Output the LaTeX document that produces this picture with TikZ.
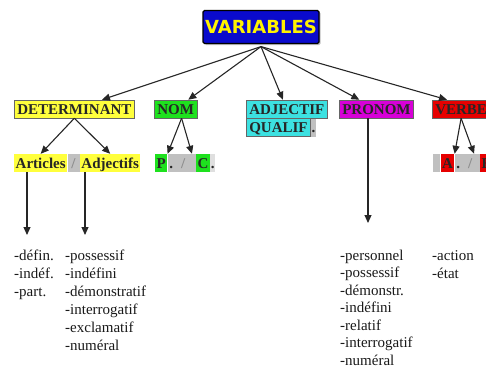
\documentclass[tikz,border=0pt]{standalone}
\usepackage{fontspec}
\setmainfont{Liberation Serif}
\newfontfamily\titlefont{DejaVu Sans}
\usetikzlibrary{arrows.meta,shadows}
\definecolor{varblue}{RGB}{10,10,205}
\definecolor{detyellow}{RGB}{255,255,60}
\definecolor{nomgreen}{RGB}{30,225,30}
\definecolor{adjcyan}{RGB}{60,225,225}
\definecolor{pronmagenta}{RGB}{215,0,215}
\definecolor{verbred}{RGB}{230,0,0}
\definecolor{sepgray}{RGB}{192,192,192}
\tikzset{
  head/.style={draw=black!60, line width=0.5pt, anchor=west, inner xsep=3pt, inner ysep=0pt,
    minimum height=18pt, text height=10.5pt, text depth=0.5pt,
    font=\bfseries\fontsize{15}{18}\selectfont, text=black!85},
  seg/.style={fill=#1, anchor=west, inner xsep=1.5pt, inner ysep=0pt,
    minimum height=18pt, text height=10.5pt, text depth=0.5pt,
    font=\bfseries\fontsize{15}{18}\selectfont, text=black!85},
  item/.style={anchor=base west, inner sep=0pt, font=\fontsize{15}{18}\selectfont, text=black!90},
  arr/.style={-{Triangle[length=8pt,width=7pt]}, line width=1.1pt, black!85},
}
\begin{document}
\begin{tikzpicture}[x=1pt,y=-1pt]
    \useasboundingbox (0,0) rectangle (486,372);
    \clip (0,0) rectangle (486,372);
    % title
    \node[draw=black, line width=1.2pt, fill=varblue, rounded corners=1.5pt,
        minimum width=116pt, minimum height=33pt, inner sep=0pt, text=yellow,
        font=\titlefont\bfseries\fontsize{18}{20}\selectfont,
        drop shadow={shadow xshift=1.5pt, shadow yshift=-1.5pt, fill=black!50}] (var) at (261,27) {VARIABLES};
    \coordinate (hub) at ([yshift=-2.5pt]var.south);
    % first row
    \node[head, fill=detyellow] (det) at (14,109) {DETERMINANT};
    \node[head, fill=nomgreen] (nom) at (154,109) {NOM};
    \node[head, fill=adjcyan] (adj) at (246,109) {ADJECTIF};
    \node[head, fill=adjcyan, anchor=north west] (qual) at (adj.south west) {QUALIF};
    \node[seg=sepgray, inner xsep=0.5pt] (qualdot) at (qual.east) {.};
    \node[head, fill=pronmagenta] (pron) at (339,109) {PRONOM};
    \node[head, fill=verbred] (verbe) at (432,109) {VERBE};
    % second row
    \node[seg=detyellow] (arts) at (14,163) {Articles};
    \node[seg=sepgray, minimum width=12pt, text=black!45] (detsl) at (arts.east) {/};
    \node[seg=detyellow] (adjs) at (detsl.east) {Adjectifs};
    \node[seg=nomgreen] (p) at (155,163) {P};
    \node[seg=sepgray] (nomsl) at (p.east) {\makebox[25pt][l]{.\hspace{8pt}\textcolor{black!45}{/}}};
    \node[seg=nomgreen] (c) at (nomsl.east) {C};
    \node[seg=sepgray!50, inner xsep=0.5pt] (cdot) at (c.east) {.};
    \node[seg=sepgray, minimum width=7pt] (vgap) at (433,163) {};
    \node[seg=verbred] (a) at (vgap.east) {A};
    \node[seg=sepgray] (verbsl) at (a.east) {\makebox[22pt][l]{.\hspace{8pt}\textcolor{black!45}{/}}};
    \node[seg=verbred] (e) at (verbsl.east) {E};
    % arrows
    \foreach \n in {det,nom,adj,pron}
        \draw[arr] (hub) -- (\n);
    \draw[arr] (hub) -- ([xshift=15pt]verbe.north west);
    \draw[arr] (det.south) -- (arts.north);
    \draw[arr] (det.south) -- (adjs.north);
    \draw[arr] ([xshift=6pt]nom.south) -- (p.north east);
    \draw[arr] ([xshift=6pt]nom.south) -- ([xshift=-4pt]c.north west);
    \draw[arr] (verbe.south) -- (a.north east);
    \draw[arr] (verbe.south) -- ([xshift=-6pt]e.north west);
    \coordinate (artsend) at (27,235);
    \coordinate (adjsend) at (85,235);
    \coordinate (pronend) at (368,223);
    \draw[arr] (arts.south -| artsend) -- (artsend);
    \draw[arr] (adjs.south -| adjsend) -- (adjsend);
    \draw[arr] (pron.south -| pronend) -- (pronend);
    % lists
    \foreach \t [count=\i from 0] in {-défin.,-indéf.,-part.}
        \node[item] (art\i) at (14,{260+18*\i}) {\t};
    \foreach \t [count=\i from 0] in {-possessif,-indéfini,-démonstratif,-interrogatif,-exclamatif,-numéral}
        \node[item] (adjs\i) at (65,{260+18*\i}) {\t};
    \foreach \t [count=\i from 0] in {-personnel,-possessif,-démonstr.,-indéfini,-relatif,-interrogatif,-numéral}
        \node[item] (pron\i) at (340,{260+17.5*\i}) {\t};
    \foreach \t [count=\i from 0] in {-action,-état}
        \node[item] (verbe\i) at (432,{260+18*\i}) {\t};
\end{tikzpicture}
\end{document}
